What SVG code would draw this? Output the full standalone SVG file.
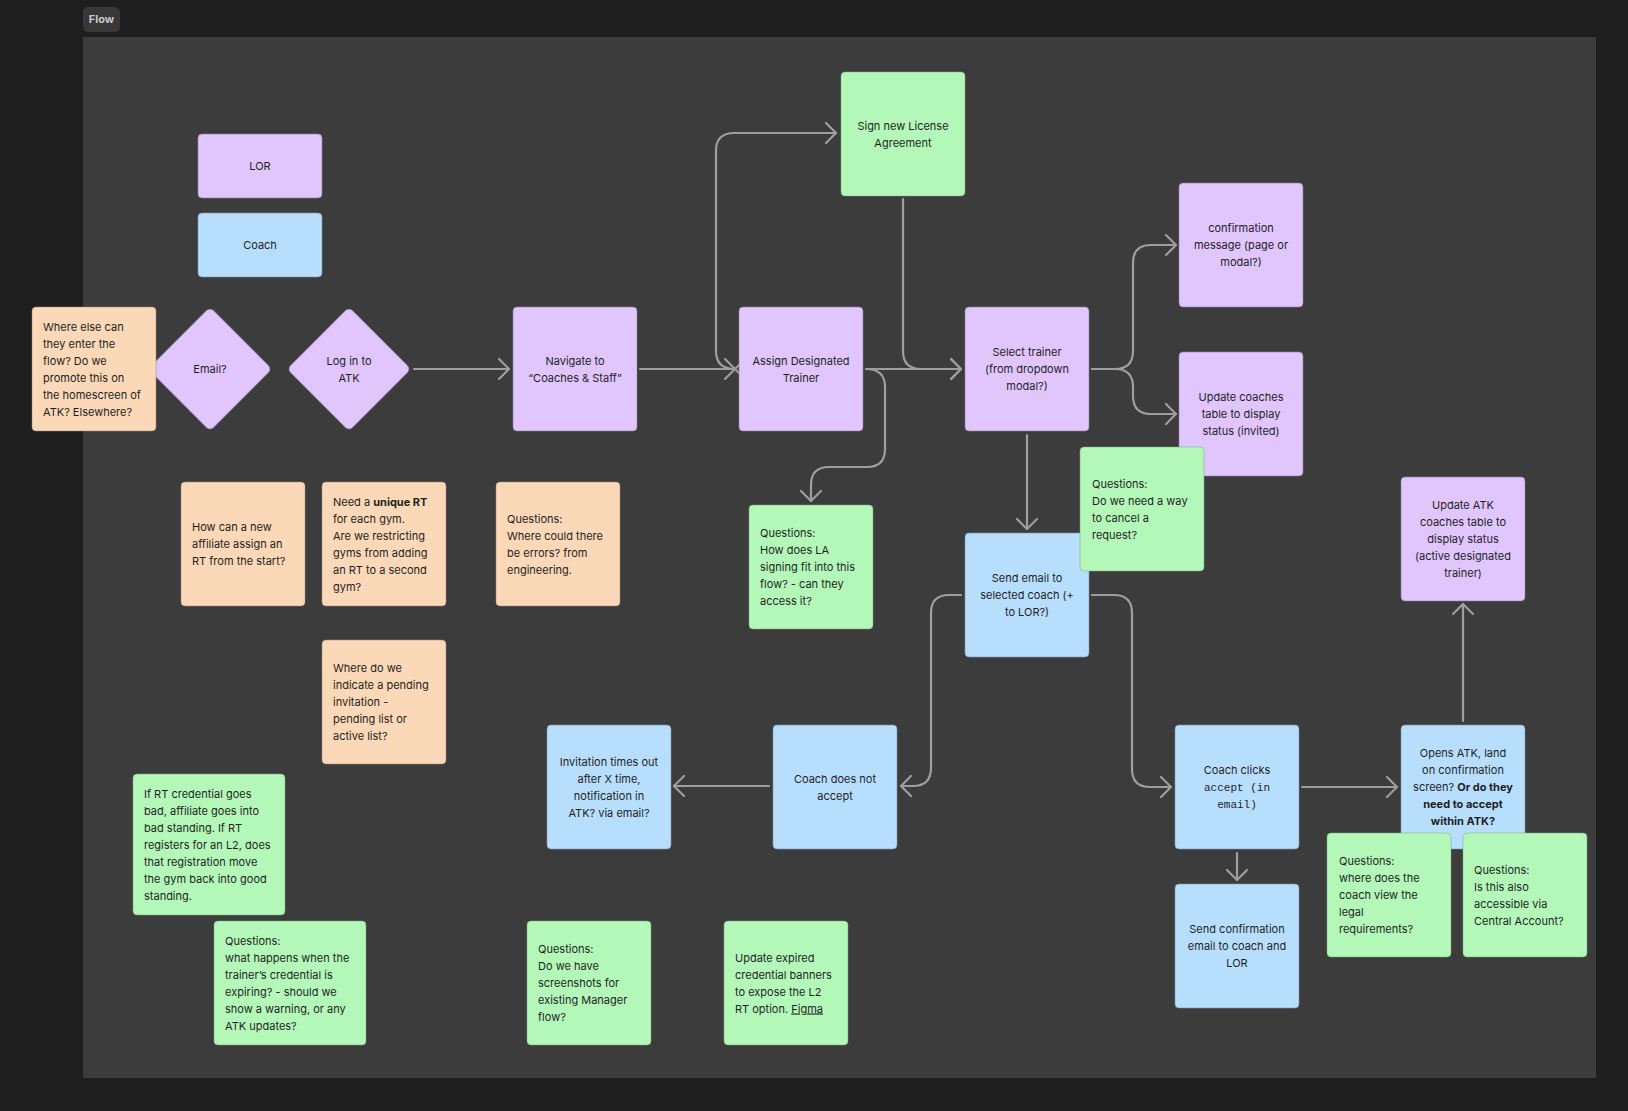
<svg xmlns="http://www.w3.org/2000/svg" width="1628" height="1111" viewBox="0 0 1628 1111">
<style>
.t{font-family:Inter,"Liberation Sans",sans-serif;font-size:11px;fill:#1f1f1f}
.c{text-anchor:middle}
.b{font-weight:700}
.m{font-family:"Liberation Mono","DejaVu Sans Mono",monospace;font-size:11px}
.p{fill:#e0c6fd;stroke:#8a8296;stroke-opacity:.6}
.bl{fill:#b8defd;stroke:#7f93a4;stroke-opacity:.6}
.g{fill:#b4f8b9;stroke:#7fa383;stroke-opacity:.5}
.o{fill:#fbd8b7;stroke:#a08c79;stroke-opacity:.5}
.e{fill:none;stroke:#9e9e9e;stroke-width:2.2;stroke-linecap:round;stroke-linejoin:round}
</style>
<defs>
<marker id="ar" viewBox="-12 -12 14 24" markerWidth="14" markerHeight="24" refX="0" refY="0" orient="auto" markerUnits="userSpaceOnUse">
<path d="M-10,-10 L0,0 L-10,10" fill="none" stroke="#9e9e9e" stroke-width="2.2" stroke-linecap="round" stroke-linejoin="round"/>
</marker>
</defs>
<rect x="0" y="0" width="1628" height="1111" fill="#1e1e1e"/>
<rect x="83" y="37" width="1513" height="1041" fill="#3c3c3c"/>
<g id="frame-label">
<rect x="83" y="7" width="37" height="25" rx="5" fill="#383838"/>
<text x="101.5" y="23" class="t c b" style="fill:#c9c9c9">Flow</text>
</g>

<g id="connectors">
<path class="e" d="M414,369 H509" marker-end="url(#ar)"/>
<path class="e" d="M640,369 H735" marker-end="url(#ar)"/>
<path class="e" d="M735,369 Q716,369 716,351 V151 Q716,133 734,133 H836" marker-end="url(#ar)" marker-start="url(#ar)"/>
<path class="e" d="M903,199 V351 Q903,369 921,369 H961" marker-end="url(#ar)"/>
<path class="e" d="M866,369 H961" marker-end="url(#ar)"/>
<path class="e" d="M866,369 Q885,369 885,387 V449 Q885,467 867,467 H829 Q811,467 811,485 V501" marker-end="url(#ar)"/>
<path class="e" d="M1092,369 H1115 Q1133,369 1133,351 V263 Q1133,245 1151,245 H1176" marker-end="url(#ar)"/>
<path class="e" d="M1092,369 H1115 Q1133,369 1133,387 V396 Q1133,414 1151,414 H1176" marker-end="url(#ar)"/>
<path class="e" d="M1027,435 V529" marker-end="url(#ar)"/>
<path class="e" d="M961,595 H949 Q931,595 931,613 V768 Q931,786 913,786 H901" marker-end="url(#ar)"/>
<path class="e" d="M1092,595 H1114 Q1132,595 1132,613 V769 Q1132,787 1150,787 H1171" marker-end="url(#ar)"/>
<path class="e" d="M769,786 H674" marker-end="url(#ar)"/>
<path class="e" d="M1302,787 H1397" marker-end="url(#ar)"/>
<path class="e" d="M1237,853 V880" marker-end="url(#ar)"/>
<path class="e" d="M1463,721 V604" marker-end="url(#ar)"/>
</g>

<g id="lor"><rect class="p" x="198" y="134" width="124" height="64" rx="4"/><text class="t c" x="260" y="170">LOR</text></g>
<g id="coach"><rect class="bl" x="198" y="213" width="124" height="64" rx="4"/><text class="t c" x="260" y="249">Coach</text></g>

<g id="email"><rect class="p" x="-43.8" y="-43.8" width="87.7" height="87.7" rx="5" transform="translate(210,369) rotate(45)"/><text class="t c" x="210" y="373">Email?</text></g>
<g id="where-else"><rect class="o" x="32" y="307" width="124" height="124" rx="4"/>
<text class="t" x="43" y="331"><tspan x="43">Where else can</tspan><tspan x="43" dy="17">they enter the</tspan><tspan x="43" dy="17">flow? Do we</tspan><tspan x="43" dy="17">promote this on</tspan><tspan x="43" dy="17">the homescreen of</tspan><tspan x="43" dy="17">ATK? Elsewhere?</tspan></text></g>
<g id="login"><rect class="p" x="-43.8" y="-43.8" width="87.7" height="87.7" rx="5" transform="translate(349,369) rotate(45)"/><text class="t c" x="349" y="365"><tspan x="349">Log in to</tspan><tspan x="349" dy="17">ATK</tspan></text></g>

<g id="navigate"><rect class="p" x="513" y="307" width="124" height="124" rx="4"/><text class="t c" y="365"><tspan x="575">Navigate to</tspan><tspan x="575" dy="17">“Coaches &amp; Staff”</tspan></text></g>
<g id="assign"><rect class="p" x="739" y="307" width="124" height="124" rx="4"/><text class="t c" y="365"><tspan x="801">Assign Designated</tspan><tspan x="801" dy="17">Trainer</tspan></text></g>
<g id="sign"><rect class="g" x="841" y="72" width="124" height="124" rx="4"/><text class="t c" y="130"><tspan x="903">Sign new License</tspan><tspan x="903" dy="17">Agreement</tspan></text></g>
<g id="select"><rect class="p" x="965" y="307" width="124" height="124" rx="4"/><text class="t c" y="356"><tspan x="1027">Select trainer</tspan><tspan x="1027" dy="17">(from dropdown</tspan><tspan x="1027" dy="17">modal?)</tspan></text></g>
<g id="confirmation"><rect class="p" x="1179" y="183" width="124" height="124" rx="4"/><text class="t c" y="232"><tspan x="1241">confirmation</tspan><tspan x="1241" dy="17">message (page or</tspan><tspan x="1241" dy="17">modal?)</tspan></text></g>
<g id="update-coaches"><rect class="p" x="1179" y="352" width="124" height="124" rx="4"/><text class="t c" y="401"><tspan x="1241">Update coaches</tspan><tspan x="1241" dy="17">table to display</tspan><tspan x="1241" dy="17">status (invited)</tspan></text></g>
<g id="send-email"><rect class="bl" x="965" y="533" width="124" height="124" rx="4"/><text class="t c" y="582"><tspan x="1027">Send email to</tspan><tspan x="1027" dy="17">selected coach (+</tspan><tspan x="1027" dy="17">to LOR?)</tspan></text></g>
<g id="q-cancel"><rect class="g" x="1080" y="447" width="124" height="124" rx="4"/><text class="t" y="487.5"><tspan x="1092">Questions:</tspan><tspan x="1092" dy="17">Do we need a way</tspan><tspan x="1092" dy="17">to cancel a</tspan><tspan x="1092" dy="17">request?</tspan></text></g>
<g id="q-la"><rect class="g" x="749" y="505" width="124" height="124" rx="4"/><text class="t" y="537"><tspan x="760">Questions:</tspan><tspan x="760" dy="17">How does LA</tspan><tspan x="760" dy="17">signing fit into this</tspan><tspan x="760" dy="17">flow? - can they</tspan><tspan x="760" dy="17">access it?</tspan></text></g>
<g id="update-atk"><rect class="p" x="1401" y="477" width="124" height="124" rx="4"/><text class="t c" y="509"><tspan x="1463">Update ATK</tspan><tspan x="1463" dy="17">coaches table to</tspan><tspan x="1463" dy="17">display status</tspan><tspan x="1463" dy="17">(active designated</tspan><tspan x="1463" dy="17">trainer)</tspan></text></g>

<g id="how-can"><rect class="o" x="181" y="482" width="124" height="124" rx="4"/><text class="t" y="531"><tspan x="192">How can a new</tspan><tspan x="192" dy="17">affiliate assign an</tspan><tspan x="192" dy="17">RT from the start?</tspan></text></g>
<g id="unique-rt"><rect class="o" x="322" y="482" width="124" height="124" rx="4"/><text class="t" y="505.5"><tspan x="333">Need a <tspan class="b">unique RT</tspan></tspan><tspan x="333" dy="17">for each gym.</tspan><tspan x="333" dy="17">Are we restricting</tspan><tspan x="333" dy="17">gyms from adding</tspan><tspan x="333" dy="17">an RT to a second</tspan><tspan x="333" dy="17">gym?</tspan></text></g>
<g id="q-errors"><rect class="o" x="496" y="482" width="124" height="124" rx="4"/><text class="t" y="522.5"><tspan x="507">Questions:</tspan><tspan x="507" dy="17">Where could there</tspan><tspan x="507" dy="17">be errors? from</tspan><tspan x="507" dy="17">engineering.</tspan></text></g>
<g id="pending"><rect class="o" x="322" y="640" width="124" height="124" rx="4"/><text class="t" y="672"><tspan x="333">Where do we</tspan><tspan x="333" dy="17">indicate a pending</tspan><tspan x="333" dy="17">invitation -</tspan><tspan x="333" dy="17">pending list or</tspan><tspan x="333" dy="17">active list?</tspan></text></g>

<g id="invitation"><rect class="bl" x="547" y="725" width="124" height="124" rx="4"/><text class="t c" y="765.5"><tspan x="609">Invitation times out</tspan><tspan x="609" dy="17">after X time,</tspan><tspan x="609" dy="17">notification in</tspan><tspan x="609" dy="17">ATK? via email?</tspan></text></g>
<g id="not-accept"><rect class="bl" x="773" y="725" width="124" height="124" rx="4"/><text class="t c" y="782.5"><tspan x="835">Coach does not</tspan><tspan x="835" dy="17">accept</tspan></text></g>
<g id="clicks-accept"><rect class="bl" x="1175" y="725" width="124" height="124" rx="4"/><text class="t c" y="774"><tspan x="1237">Coach clicks</tspan><tspan x="1237" dy="17" class="m">accept (in</tspan><tspan x="1237" dy="17" class="m">email)</tspan></text></g>
<g id="opens-atk"><rect class="bl" x="1401" y="725" width="124" height="124" rx="4"/><text class="t c" y="757"><tspan x="1463">Opens ATK, land</tspan><tspan x="1463" dy="17">on confirmation</tspan><tspan x="1463" dy="17">screen? <tspan class="b">Or do they</tspan></tspan><tspan x="1463" dy="17" class="b">need to accept</tspan><tspan x="1463" dy="17" class="b">within ATK?</tspan></text></g>
<g id="send-confirm"><rect class="bl" x="1175" y="884" width="124" height="124" rx="4"/><text class="t c" y="933"><tspan x="1237">Send confirmation</tspan><tspan x="1237" dy="17">email to coach and</tspan><tspan x="1237" dy="17">LOR</tspan></text></g>
<g id="q-legal"><rect class="g" x="1327" y="833" width="124" height="124" rx="4"/><text class="t" y="865"><tspan x="1339">Questions:</tspan><tspan x="1339" dy="17">where does the</tspan><tspan x="1339" dy="17">coach view the</tspan><tspan x="1339" dy="17">legal</tspan><tspan x="1339" dy="17">requirements?</tspan></text></g>
<g id="q-central"><rect class="g" x="1463" y="833" width="124" height="124" rx="4"/><text class="t" y="873.5"><tspan x="1474">Questions:</tspan><tspan x="1474" dy="17">Is this also</tspan><tspan x="1474" dy="17">accessible via</tspan><tspan x="1474" dy="17">Central Account?</tspan></text></g>

<g id="rt-credential"><rect class="g" x="133" y="774" width="152" height="141" rx="4"/><text class="t" y="797.5"><tspan x="144">If RT credential goes</tspan><tspan x="144" dy="17">bad, affiliate goes into</tspan><tspan x="144" dy="17">bad standing. If RT</tspan><tspan x="144" dy="17">registers for an L2, does</tspan><tspan x="144" dy="17">that registration move</tspan><tspan x="144" dy="17">the gym back into good</tspan><tspan x="144" dy="17">standing.</tspan></text></g>
<g id="q-expiring"><rect class="g" x="214" y="921" width="152" height="124" rx="4"/><text class="t" y="944.5"><tspan x="225">Questions:</tspan><tspan x="225" dy="17">what happens when the</tspan><tspan x="225" dy="17">trainer’s credential is</tspan><tspan x="225" dy="17">expiring? - should we</tspan><tspan x="225" dy="17">show a warning, or any</tspan><tspan x="225" dy="17">ATK updates?</tspan></text></g>
<g id="q-screenshots"><rect class="g" x="527" y="921" width="124" height="124" rx="4"/><text class="t" y="953"><tspan x="538">Questions:</tspan><tspan x="538" dy="17">Do we have</tspan><tspan x="538" dy="17">screenshots for</tspan><tspan x="538" dy="17">existing Manager</tspan><tspan x="538" dy="17">flow?</tspan></text></g>
<g id="update-expired"><rect class="g" x="724" y="921" width="124" height="124" rx="4"/><text class="t" y="961.5"><tspan x="735">Update expired</tspan><tspan x="735" dy="17">credential banners</tspan><tspan x="735" dy="17">to expose the L2</tspan><tspan x="735" dy="17">RT option. <tspan text-decoration="underline">Figma</tspan></tspan></text></g>
</svg>
